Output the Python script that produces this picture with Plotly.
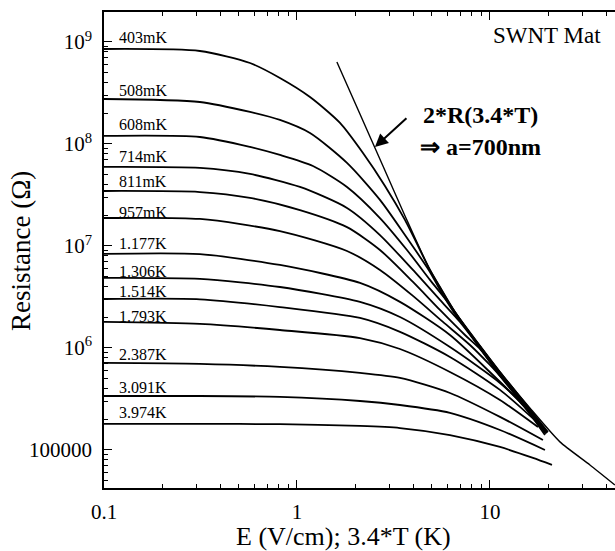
import math
import plotly.graph_objects as go

# ---------------- data ----------------
labels = ["403mK", "508mK", "608mK", "714mK", "811mK", "957mK", "1.177K",
          "1.306K", "1.514K", "1.793K", "2.387K", "3.091K", "3.974K"]

E_403 = [0.1, 0.314, 0.571, 0.816, 1.168, 1.671, 2.198, 2.858, 3.627, 4.889, 5.507, 6.587, 8.876, 11.27, 15.18, 19.98]
R_403 = [8.54e8, 8.16e8, 6.22e8, 4.44e8, 2.89e8, 1.61e8, 8.16e7, 3.88e7, 1.80e7, 5.82e6, 3.96e6, 2.25e6, 1.05e6, 5.82e5, 2.89e5, 1.50e5]

E_508 = [0.1, 0.314, 0.571, 0.816, 1.168, 1.816, 2.692, 3.627, 4.889, 5.507, 6.587, 8.876, 11.27, 15.18, 19.8]
R_508 = [2.76e8, 2.58e8, 2.06e8, 1.72e8, 1.28e8, 6.52e7, 2.83e7, 1.28e7, 5.56e6, 3.71e6, 2.15e6, 1.03e6, 5.70e5, 2.84e5, 1.48e5]

E_608 = [0.1, 0.314, 0.571, 0.816, 1.210, 1.816, 2.692, 3.715, 4.889, 6.204, 8.876, 11.27, 15.18, 19.74]
R_608 = [1.20e8, 1.17e8, 9.35e7, 7.80e7, 6.08e7, 3.79e7, 1.88e7, 9.14e6, 4.65e6, 2.64e6, 1.00e6, 5.56e5, 2.76e5, 1.47e5]

E_714 = [0.1, 0.314, 0.571, 1.036, 1.816, 2.692, 3.990, 5.507, 6.993, 8.876, 11.27, 15.18, 19.5]
R_714 = [5.96e7, 5.82e7, 5.08e7, 3.79e7, 2.36e7, 1.28e7, 5.82e6, 2.96e6, 1.80e6, 1.00e6, 5.43e5, 2.70e5, 1.44e5]

E_811 = [0.1, 0.314, 0.571, 1.036, 1.816, 2.692, 3.990, 5.507, 7.423, 8.876, 11.27, 15.18, 19.28]
R_811 = [3.46e7, 3.38e7, 2.96e7, 2.25e7, 1.53e7, 9.14e6, 4.44e6, 2.36e6, 1.34e6, 9.77e5, 5.31e5, 2.64e5, 1.40e5]

E_957 = [0.1, 0.314, 0.816, 1.816, 2.692, 3.990, 5.708, 7.878, 10.0, 12.69, 16.12, 19.28]
R_957 = [1.88e7, 1.84e7, 1.40e7, 8.93e6, 5.82e6, 3.24e6, 1.80e6, 1.07e6, 6.81e5, 4.15e5, 2.47e5, 1.50e5]

E_1177 = [0.1, 0.314, 0.816, 2.121, 3.418, 6.204, 10.36, 14.30, 19.28]
R_1177 = [8.35e6, 8.30e6, 6.51e6, 4.34e6, 2.83e6, 1.34e6, 5.43e5, 2.96e5, 1.50e5]

E_1306 = [0.1, 0.314, 0.816, 2.121, 3.418, 6.204, 11.27, 15.18, 19.28]
R_1306 = [4.86e6, 4.75e6, 3.96e6, 2.83e6, 2.01e6, 1.02e6, 4.54e5, 2.64e5, 1.53e5]

E_1514 = [0.1, 0.314, 0.816, 2.121, 3.418, 6.204, 11.27, 18.16]
R_1514 = [3.02e6, 3.00e6, 2.52e6, 1.97e6, 1.44e6, 8.16e5, 3.88e5, 1.76e5]

E_1793 = [0.1, 0.314, 0.816, 2.121, 3.418, 6.204, 11.27, 17.74]
R_1793 = [1.80e6, 1.72e6, 1.50e6, 1.25e6, 9.77e5, 5.82e5, 3.09e5, 1.68e5]

E_2387 = [0.1, 0.314, 0.816, 2.121, 3.418, 6.204, 11.27, 18.82]
R_2387 = [7.13e5, 6.97e5, 6.52e5, 5.69e5, 5.08e5, 3.62e5, 2.11e5, 1.25e5]

E_3091 = [0.1, 0.314, 0.816, 2.121, 3.418, 6.204, 11.27, 19.28]
R_3091 = [3.38e5, 3.38e5, 3.31e5, 3.02e5, 2.76e5, 2.31e5, 1.57e5, 1.00e5]

E_3974 = [0.1, 0.314, 0.816, 2.121, 3.418, 6.204, 11.27, 16.71, 20.96]
R_3974 = [1.80e5, 1.80e5, 1.79e5, 1.72e5, 1.64e5, 1.40e5, 1.07e5, 8.35e4, 7.13e4]

# fitted curve 2*R(3.4*T)
fit_E = [1.61, 2.12, 2.79, 3.63, 4.89, 6.59, 8.88, 11.27, 16.1, 23.05, 32.97, 44.4]
fit_R = [6.37e8, 1.97e8, 6.08e7, 1.97e7, 5.82e6, 2.25e6, 1.05e6, 5.82e5, 2.58e5, 1.20e5, 7.13e4, 4.54e4]

x_tickvals = [0.1, 1, 10]
x_ticktext = ["0.1", "1", "10"]
y_tickvals = [1e5, 1e6, 1e7, 1e8, 1e9]
y_ticktext = ["100000", "10<sup>6</sup>", "10<sup>7</sup>", "10<sup>8</sup>", "10<sup>9</sup>"]

# ---------------- figure ----------------
SERIF = "Liberation Serif, Times New Roman, serif"

series = [(E_403, R_403), (E_508, R_508), (E_608, R_608), (E_714, R_714),
          (E_811, R_811), (E_957, R_957), (E_1177, R_1177), (E_1306, R_1306),
          (E_1514, R_1514), (E_1793, R_1793), (E_2387, R_2387), (E_3091, R_3091),
          (E_3974, R_3974)]
label_lift_px = [11, 9, 11, 10, 9, 6, 10, 6, 8, 5, 8, 9, 11]

fig = go.Figure()
for name, (E, R) in zip(labels, series):
    fig.add_trace(go.Scatter(x=E, y=R, mode="lines", name=name, showlegend=False,
                             line=dict(color="black", width=1.8, shape="spline", smoothing=0.7)))

fig.add_trace(go.Scatter(x=fit_E, y=fit_R, mode="lines", showlegend=False,
                         line=dict(color="black", width=1.4, shape="spline", smoothing=0.6)))

# figure / plot area in pixels
FW, FH = 615, 551
L, T, PW, PH = 104, 12, 511, 476
def px_to_paper(px, py):
    return (px - L) / PW, 1 - (py - T) / PH

annotations = []
for name, (E, R), lift in zip(labels, series, label_lift_px):
    annotations.append(dict(x=math.log10(0.1168), y=math.log10(R[0]), xref="x", yref="y",
                            text=name, showarrow=False, xanchor="left", yanchor="middle",
                            yshift=lift, font=dict(family=SERIF, size=16, color="black")))

sx, sy = px_to_paper(603, 35)
annotations.append(dict(x=sx, y=sy, xref="paper", yref="paper", text="SWNT Mat", showarrow=False,
                        xanchor="right", yanchor="middle", font=dict(family=SERIF, size=23, color="black")))
annotations.append(dict(x=math.log10(2.535), y=math.log10(9.35e7), xref="x", yref="y",
                        text="", showarrow=True, ax=33, ay=-30, arrowhead=2, arrowsize=1.3,
                        arrowwidth=2, arrowcolor="black"))
bx, by = px_to_paper(421, 115)
annotations.append(dict(x=bx, y=by, xref="paper", yref="paper", text="<b>2*R(3.4*T)</b>",
                        showarrow=False, xanchor="left", yanchor="middle",
                        font=dict(family=SERIF, size=24, color="black")))
cx, cy = px_to_paper(418, 147)
annotations.append(dict(x=cx, y=cy, xref="paper", yref="paper", text="<b>⇒ a=700nm</b>",
                        showarrow=False, xanchor="left", yanchor="middle",
                        font=dict(family=SERIF, size=24, color="black")))
yx, yy = px_to_paper(21, 251)
annotations.append(dict(x=yx, y=yy, xref="paper", yref="paper", text="Resistance (Ω)", textangle=-90,
                        showarrow=False, xanchor="center", yanchor="middle",
                        font=dict(family=SERIF, size=27, color="black")))
tx, ty = px_to_paper(343, 536)
annotations.append(dict(x=tx, y=ty, xref="paper", yref="paper", text="E (V/cm); 3.4*T (K)",
                        showarrow=False, xanchor="center", yanchor="middle",
                        font=dict(family=SERIF, size=26, color="black")))

minor_x = [m * 10 ** d for d in (-1, 0, 1) for m in range(2, 10)]
minor_y = [m * 10 ** d for d in (4, 5, 6, 7, 8, 9) for m in range(2, 10)]

axis_common = dict(type="log", showgrid=False, zeroline=False, showline=True,
                   linecolor="black", linewidth=1.5,
                   ticks="inside", ticklen=8, tickwidth=1.2, tickcolor="black",
                   tickfont=dict(family=SERIF, size=21, color="black"))

fig.update_layout(
    width=FW, height=FH,
    margin=dict(l=L, r=FW - L - PW, t=T, b=FH - T - PH),
    paper_bgcolor="white", plot_bgcolor="white",
    xaxis=dict(range=[-1, 1.648], tickvals=x_tickvals, ticktext=x_ticktext,
               ticklabelstandoff=4, mirror="ticks",
               minor=dict(tickvals=minor_x, ticks="inside", ticklen=4, tickcolor="black", showgrid=False),
               **axis_common),
    yaxis=dict(range=[4.627, 9.294], tickvals=y_tickvals, ticktext=y_ticktext,
               ticklabelstandoff=6, mirror=False,
               minor=dict(tickvals=minor_y, ticks="inside", ticklen=4, tickcolor="black", showgrid=False),
               **axis_common),
    annotations=annotations,
)

fig.write_html("out.html", config={"displayModeBar": False},
               post_script="document.body.style.margin='0';document.body.style.overflow='hidden';")
